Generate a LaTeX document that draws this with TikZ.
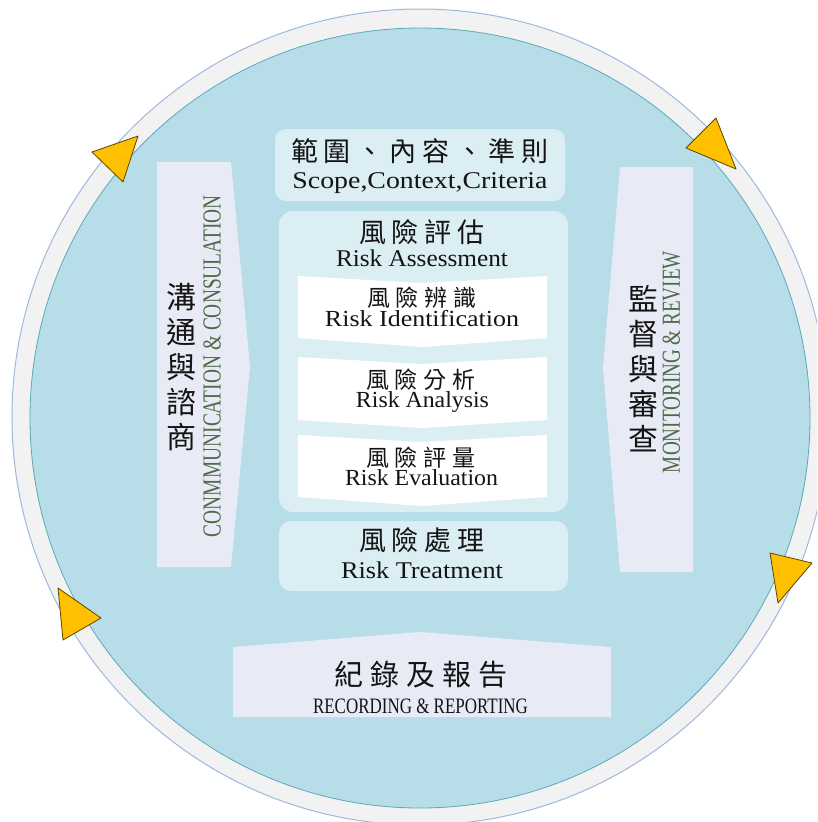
\documentclass[tikz,border=0pt]{standalone}
\usepackage{fontspec}
\usepackage{graphicx}
\setmainfont{Liberation Serif}
\newfontfamily\cjk{Noto Sans CJK TC}
\definecolor{diskblue}{HTML}{B7DEE8}
\definecolor{diskline}{HTML}{5BA9BA}
\definecolor{ringgray}{HTML}{F2F2F2}
\definecolor{ringline}{HTML}{9DB9DD}
\definecolor{panelblue}{HTML}{DAEEF3}
\definecolor{lavender}{HTML}{E8EBF6}
\definecolor{tri}{HTML}{FFC000}
\definecolor{triline}{HTML}{5A4800}
\definecolor{greentext}{HTML}{4E6B47}
\definecolor{ink}{HTML}{141414}
\newcommand\fitw[2]{\resizebox{#1}{\height}{#2}}
\begin{document}
\begin{tikzpicture}[x=1pt,y=-1pt,
  panel/.style={fill=panelblue,draw=none},
  arrowbox/.style={fill=lavender,draw=none},
  chevron/.style={fill=white,draw=none},
  tribox/.style={fill=tri,draw=triline,line width=0.8pt,line join=round},
  cjkt/.style={inner sep=0pt,text=ink},
  cjkh/.style={inner sep=0pt,text=ink,anchor=base,text depth=0pt},
  ent/.style={inner sep=0pt,anchor=base,text=ink},
  rott/.style={inner sep=0pt,rotate=90,text=greentext}]
\useasboundingbox (0,0) rectangle (817,822);
\clip (0,0) rectangle (817,822);
% ring and disk
\fill[white] (0,0) rectangle (817,822);
\draw[fill=ringgray,draw=ringline,line width=1pt] (420,417) circle (408pt);
\draw[fill=diskblue,draw=diskline,line width=0.8pt] (420,418) circle (390pt);
% triangles
\draw[tribox] (92,152) -- (138,136) -- (123,182) -- cycle;
\draw[tribox] (686,148) -- (716,118) -- (736,169) -- cycle;
\draw[tribox] (58,588) -- (101,618) -- (63,640) -- cycle;
\draw[tribox] (770,553) -- (812,563) -- (778,603) -- cycle;
% panels
\fill[panel,rounded corners=11pt] (275,129) rectangle (565,201);
\fill[panel,rounded corners=14pt] (279,211) rectangle (568,512);
\fill[panel,rounded corners=12pt] (279,521) rectangle (568,591);
% chevrons
\fill[chevron] (298,276) -- (422,283) -- (547,276) -- (547,338) -- (422,347) -- (298,338) -- cycle;
\fill[chevron] (298,357) -- (422,364) -- (547,357) -- (547,420) -- (422,428) -- (298,420) -- cycle;
\fill[chevron] (298,435) -- (422,442) -- (547,435) -- (547,497) -- (422,506) -- (298,497) -- cycle;
% side arrows and bottom box
\fill[arrowbox] (157,162) -- (231,162) -- (250,367) -- (231,567) -- (157,567) -- cycle;
\fill[arrowbox] (620,167) -- (693,167) -- (693,572) -- (620,572) -- (603,368) -- cycle;
\fill[arrowbox] (233,647) -- (420,632) -- (611,647) -- (611,717) -- (233,717) -- cycle;
% texts
\node[cjkh,font=\cjk\fontsize{27}{30}\selectfont] (scopecn) at (420,161.3)
  {範\kern6pt 圍\kern6pt 、\kern6pt 內\kern6pt 容\kern6pt 、\kern6pt 準\kern6pt 則};
\node[ent] (scopeen) at (420,188) {\fitw{255pt}{\fontsize{24}{28}\selectfont Scope,Context,Criteria}};
\node[cjkh,font=\cjk\fontsize{27}{30}\selectfont] (assesscn) at (422,242.3)
  {風\kern6pt 險\kern6pt 評\kern6pt 估};
\node[ent] (assessen) at (422,266) {\fitw{172pt}{\fontsize{24}{28}\selectfont Risk Assessment}};
\node[cjkh,font=\cjk\fontsize{23}{26}\selectfont] (identcn) at (422,306.7)
  {風\kern6pt 險\kern6pt 辨\kern6pt 識};
\node[ent] (identen) at (422,326) {\fitw{194pt}{\fontsize{23}{27}\selectfont Risk Identification}};
\node[cjkh,font=\cjk\fontsize{23}{26}\selectfont] (analcn) at (421,388.5)
  {風\kern6pt 險\kern6pt 分\kern6pt 析};
\node[ent] (analen) at (422.5,407.5) {\fitw{133pt}{\fontsize{23}{27}\selectfont Risk Analysis}};
\node[cjkh,font=\cjk\fontsize{23}{26}\selectfont] (evalcn) at (421,466.5)
  {風\kern6pt 險\kern6pt 評\kern6pt 量};
\node[ent] (evalen) at (421.5,485.5) {\fitw{153pt}{\fontsize{23}{27}\selectfont Risk Evaluation}};
\node[cjkh,font=\cjk\fontsize{27}{30}\selectfont] (treatcn) at (422,550.3)
  {風\kern6pt 險\kern6pt 處\kern6pt 理};
\node[ent] (treaten) at (422,578) {\fitw{162pt}{\fontsize{24}{28}\selectfont Risk Treatment}};
\node[cjkh,font=\cjk\fontsize{29}{32}\selectfont] (recordcn) at (421,685)
  {紀\kern7pt 錄\kern7pt 及\kern7pt 報\kern7pt 告};
\node[ent] (recorden) at (420.5,713) {\fitw{215pt}{\fontsize{22}{26}\selectfont RECORDING \& REPORTING}};
% vertical texts
\node[cjkt,align=center,font=\cjk\fontsize{30}{35}\selectfont] (commcn) at (181,367)
  {溝\\通\\與\\諮\\商};
\node[rott] (commen) at (212,366) {\fitw{342pt}{\fontsize{26}{30}\selectfont CONMMUNICATION \& CONSULATION}};
\node[cjkt,align=center,font=\cjk\fontsize{30}{35}\selectfont] (moncn) at (643,369)
  {監\\督\\與\\審\\查};
\node[rott] (monen) at (671.5,362) {\fitw{222pt}{\fontsize{26}{30}\selectfont MONITORING \& REVIEW}};
\end{tikzpicture}
\end{document}
